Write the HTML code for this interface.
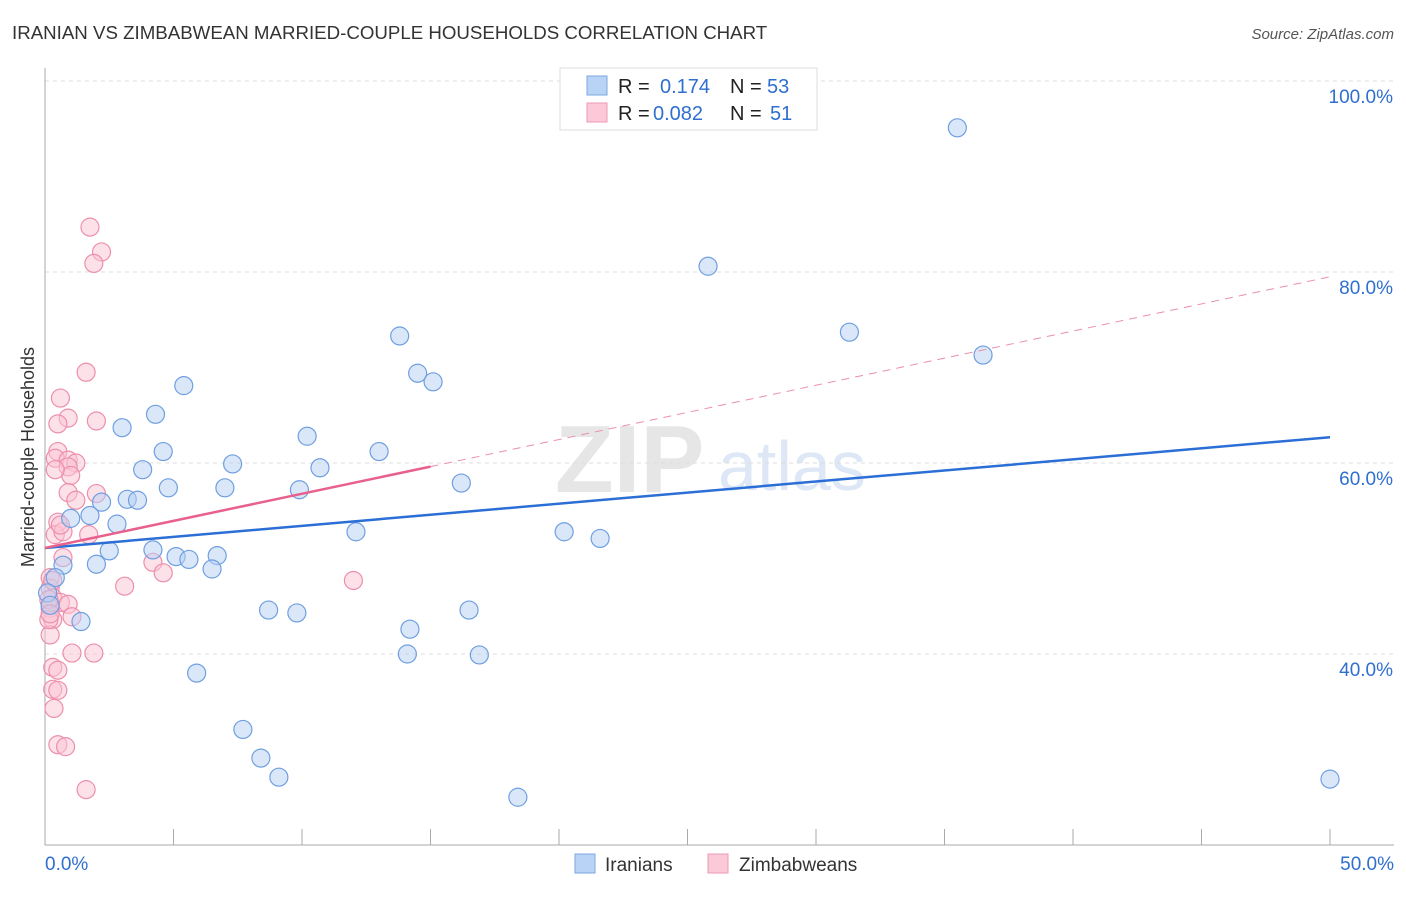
<!DOCTYPE html>
<html><head><meta charset="utf-8"><style>
body{margin:0;background:#fff;font-family:"Liberation Sans",sans-serif;}
svg text{font-family:"Liberation Sans",sans-serif;}
</style></head><body>
<svg id="c" width="1406" height="892">
<text x="12" y="39" font-size="18.7" fill="#333">IRANIAN VS ZIMBABWEAN MARRIED-COUPLE HOUSEHOLDS CORRELATION CHART</text>
<text x="1394" y="39" font-size="15" fill="#555" text-anchor="end" font-style="italic">Source: ZipAtlas.com</text>
<text x="555" y="492" font-size="96" fill="#e6e6e6" font-family="Liberation Serif" font-weight="bold">ZIP</text>
<text x="718" y="490" font-size="70" fill="#dde7f5">atlas</text>
<text transform="translate(34,457) rotate(-90)" font-size="18" fill="#333" text-anchor="middle">Married-couple Households</text>
<g id="grid"></g><g id="axes"></g><g id="pts"></g><g id="trend"></g>
<g>
<rect x="560" y="68" width="257" height="62" fill="#fff" stroke="#ddd"/>
<rect x="587" y="76" width="20" height="19" fill="#b8d3f5" stroke="#7ba7e0"/>
<rect x="587" y="103" width="20" height="19" fill="#fbc9d8" stroke="#ee9ab4"/>
<text x="618" y="93" font-size="20" fill="#222">R = </text><text x="660" y="93" font-size="20" fill="#2f6fcf">0.174</text>
<text x="730" y="93" font-size="20" fill="#222">N = </text><text x="767" y="93" font-size="20" fill="#2f6fcf">53</text>
<text x="618" y="120" font-size="20" fill="#222">R = </text><text x="653" y="120" font-size="20" fill="#2f6fcf">0.082</text>
<text x="730" y="120" font-size="20" fill="#222">N = </text><text x="770" y="120" font-size="20" fill="#2f6fcf">51</text>
</g>
<g>
<rect x="575" y="854" width="20" height="19" fill="#b8d3f5" stroke="#7ba7e0"/>
<text x="605" y="871" font-size="19" fill="#333">Iranians</text>
<rect x="708" y="854" width="20" height="19" fill="#fbc9d8" stroke="#ee9ab4"/>
<text x="739" y="871" font-size="19" fill="#333">Zimbabweans</text>
</g>
</svg>
<script>
const blueX=[35.5,25.8,31.3,36.5,13.8,14.5,15.1,5.4,4.3,3.0,10.2,4.6,13.0,7.3,3.8,10.7,16.2,4.8,7.0,9.9,3.2,3.6,2.2,1.75,1.0,2.8,12.1,20.2,21.6,2.5,4.2,5.1,5.6,6.7,2.0,6.5,0.7,0.4,0.1,0.2,8.7,9.8,16.5,1.4,14.2,14.1,16.9,5.9,7.7,8.4,9.1,18.4,50.0];
const blueY=[95.1,80.6,73.7,71.3,73.3,69.4,68.5,68.1,65.1,63.7,62.8,61.2,61.2,59.9,59.3,59.5,57.9,57.4,57.4,57.2,56.2,56.1,55.9,54.5,54.2,53.6,52.8,52.8,52.1,50.8,50.9,50.2,49.9,50.3,49.4,48.9,49.3,48.0,46.4,45.1,44.6,44.3,44.6,43.4,42.6,40.0,39.9,38.0,32.1,29.1,27.1,25.0,26.9];
const pinkX=[1.75,2.2,1.9,1.6,0.6,2.0,0.9,0.5,0.5,0.4,0.9,1.2,0.9,1.0,0.4,0.9,2.0,1.2,0.5,0.4,0.7,1.7,0.7,4.2,4.6,3.1,12.0,0.2,0.2,0.3,0.6,0.9,0.2,1.05,0.3,0.2,1.05,1.9,0.3,0.5,0.3,0.5,0.35,0.5,0.8,1.6,0.15,0.3,0.15,0.2,0.6];
const pinkY=[84.7,82.1,80.9,69.5,66.8,64.4,64.7,64.1,61.2,60.5,60.3,60.0,59.6,58.7,59.3,56.9,56.8,56.1,53.8,52.5,52.8,52.5,50.1,49.6,48.5,47.1,47.7,48.0,46.9,45.9,45.4,45.2,44.8,43.9,43.6,42.0,40.1,40.1,38.6,38.3,36.3,36.2,34.3,30.5,30.3,25.8,43.6,47.7,45.7,44.2,53.5];
const blueTrend=[51.1,62.7]; // y at x=0, x=50
const pinkTrend=[51.1,79.5];
const yTicks=[40,60,80,100];
const xLabels=["0.0%","50.0%"];
const NS="http://www.w3.org/2000/svg";
const sx=v=>45+v/50*1285, sy=v=>81+(100-v)/20*191;
function mk(t,a,p){const e=document.createElementNS(NS,t);for(const k in a)e.setAttribute(k,a[k]);p.appendChild(e);return e;}
const grid=document.getElementById('grid'),axes=document.getElementById('axes'),pts=document.getElementById('pts'),tr=document.getElementById('trend');
yTicks.forEach(t=>{
 const l=mk('line',{x1:45,x2:1394,y1:sy(t),y2:sy(t),stroke:'#ddd','stroke-dasharray':'4,4'},grid);
 
 
 const tx=mk('text',{x:1393,y:sy(t)+22,'font-size':19,fill:'#2f6fcf','text-anchor':'end'},axes);tx.textContent=t.toFixed(1)+'%';
 
 
});
mk('line',{x1:45,x2:45,y1:68,y2:845,stroke:'#aaa'},axes);
mk('line',{x1:45,x2:1394,y1:845,y2:845,stroke:'#aaa'},axes);
for(let i=0;i<=10;i++){mk('line',{x1:sx(i*5),x2:sx(i*5),y1:829,y2:845,stroke:'#aaa'},axes);}
let t0=mk('text',{x:45,y:870,'font-size':19,fill:'#2f6fcf'},axes);t0.textContent=xLabels[0];


let t1=mk('text',{x:1394,y:870,'font-size':19,fill:'#2f6fcf','text-anchor':'end'},axes);t1.textContent=xLabels[1];


function dots(X,Y,f,s,name){X.forEach((x,i)=>{const c=mk('circle',{cx:sx(x),cy:sy(Y[i]),r:9,fill:f,'fill-opacity':0.5,stroke:s,'stroke-width':1.2},pts);
 
 });}
dots(pinkX,pinkY,'#fbc3d3','#ec8fad','zimbabwean-point');
dots(blueX,blueY,'#b5d0f3','#6f9fe0','iranian-point');
let bl=mk('line',{x1:sx(0),y1:sy(blueTrend[0]),x2:sx(50),y2:sy(blueTrend[1]),stroke:'#2b6fd6','stroke-width':2.5},tr);


const pAt=x=>pinkTrend[0]+(pinkTrend[1]-pinkTrend[0])*x/50;
let pd=mk('line',{x1:sx(15),y1:sy(pAt(15)),x2:sx(50),y2:sy(pAt(50)),stroke:'#ec8fad','stroke-width':1,'stroke-dasharray':'8,6'},tr);


let pl=mk('line',{x1:sx(0),y1:sy(pAt(0)),x2:sx(15),y2:sy(pAt(15)),stroke:'#e8608c','stroke-width':2.5},tr);


</script>
</body></html>
